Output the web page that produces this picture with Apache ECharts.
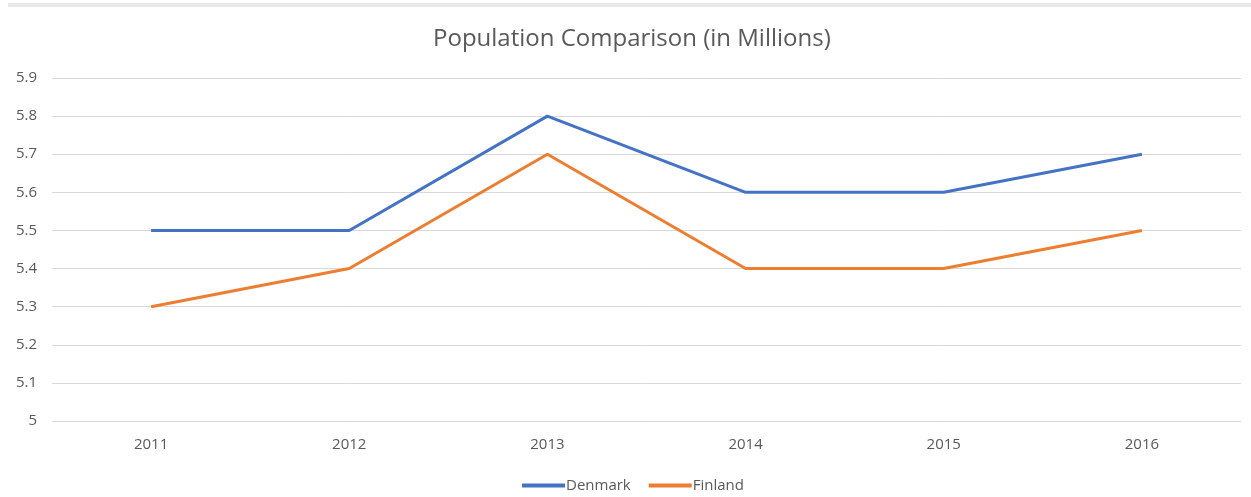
<!DOCTYPE html>
<html>
<head>
<meta charset="utf-8">
<script src="https://cdn.jsdelivr.net/npm/echarts@6/dist/echarts.min.js"></script>
<style>
  html, body { margin: 0; padding: 0; background: #ffffff; }
  #chart { width: 1251px; height: 497px; }
</style>
</head>
<body>
<div id="chart"></div>
<script>
// Population figures, in millions
const years = ['2011', '2012', '2013', '2014', '2015', '2016'];
const denmark = [5.5, 5.5, 5.8, 5.6, 5.6, 5.7];
const finland = [5.3, 5.4, 5.7, 5.4, 5.4, 5.5];

const textColor = '#595959';
const fontFamily = '"Open Sans", "Liberation Sans", sans-serif';

const chart = echarts.init(document.getElementById('chart'));
chart.setOption({
  backgroundColor: '#ffffff',
  animation: false,
  // thin frame strip along the top edge
  graphic: [{
    type: 'rect',
    shape: { x: 8, y: 3, width: 1243, height: 4 },
    style: { fill: '#e8e8e8' },
    silent: true
  }],
  title: {
    text: 'Population Comparison (in Millions)',
    left: 428,
    top: 22,
    textStyle: { color: textColor, fontFamily, fontSize: 24, fontWeight: 'normal' }
  },
  legend: {
    top: 473,
    left: 517,
    itemWidth: 43,
    itemHeight: 4,
    itemGap: 18,
    icon: 'rect',
    textStyle: { color: textColor, fontFamily, fontSize: 15, padding: [0, 0, 0, -4] },
    data: ['Denmark', 'Finland']
  },
  grid: { left: 52, right: 10, top: 78, bottom: 76 },
  xAxis: {
    type: 'category',
    data: years,
    boundaryGap: true,
    axisLine: { show: false },
    axisTick: { show: false },
    axisLabel: { color: textColor, fontFamily, fontSize: 15, margin: 16 }
  },
  yAxis: {
    type: 'value',
    min: 5,
    max: 5.9,
    interval: 0.1,
    axisLine: { show: false },
    axisTick: { show: false },
    axisLabel: {
      color: textColor, fontFamily, fontSize: 15, margin: 15,
      formatter: v => String(Math.round(v * 10) / 10)
    },
    splitLine: { lineStyle: { color: '#d9d9d9', width: 1 } }
  },
  series: [
    {
      name: 'Denmark',
      type: 'line',
      data: denmark,
      symbol: 'none',
      color: '#4472C4',
      lineStyle: { width: 3, color: '#4472C4' }
    },
    {
      name: 'Finland',
      type: 'line',
      data: finland,
      symbol: 'none',
      color: '#ED7D31',
      lineStyle: { width: 3, color: '#ED7D31' }
    }
  ]
});
</script>
</body>
</html>
